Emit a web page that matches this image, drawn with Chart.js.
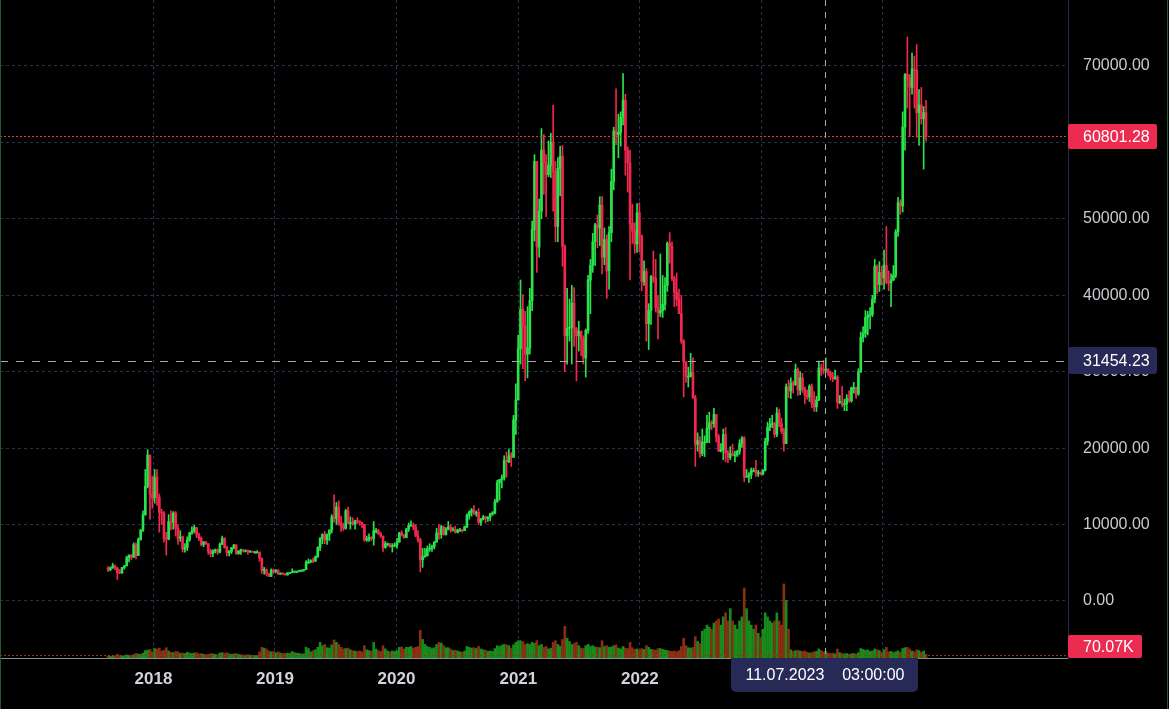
<!DOCTYPE html>
<html>
<head>
<meta charset="utf-8">
<title>BTCUSDT</title>
<script src="https://cdn.jsdelivr.net/npm/chart.js@4.4.1/dist/chart.umd.min.js"></script>
<style>
  html, body { margin: 0; padding: 0; background: #000; overflow: hidden; }
  canvas { display: block; }
</style>
</head>
<body>
<canvas id="mychart" width="1169" height="709"></canvas>
<script>
// Weekly candles, prices in thousands USDT.
// First week starts 2017-08-14, one value per week.
const firstWeek = "2017-08-14";
const firstOpen = 4.26;

const closes = [
  4.09,4.35,4.58,4.33,3.68,3.66,4.38,4.60,5.68,5.99,5.72,7.35,5.95,8.05,9.25,11.3,15.0,19.1,13.9,13.5,
  16.2,13.6,11.6,11.5,8.2,8.1,10.4,10.3,11.5,9.5,8.2,8.4,6.8,7.0,8.0,8.9,9.2,9.6,8.7,8.2,7.4,7.7,7.5,6.5,6.2,6.6,6.7,6.4,7.4,8.2,7.0,6.3,6.5,7.0,7.3,6.2,6.5,6.7,6.6,6.6,6.5,6.5,6.4,6.4,6.4,5.6,4.0,4.1,3.6,3.2,4.0,3.9,4.0,
  3.5,3.6,3.5,3.4,3.7,3.7,3.8,3.9,3.9,4.0,4.0,4.1,5.1,5.1,5.3,5.2,5.8,7.0,8.2,8.7,8.0,8.7,9.3,11.0,10.8,12.3,10.2,9.8,9.5,11.8,10.3,10.3,10.1,10.5,10.4,10.3,10.0,8.0,8.1,8.3,8.2,9.2,9.2,8.8,8.5,7.0,7.5,7.5,7.1,7.2,7.3,7.7,
  8.9,8.7,8.3,9.4,9.9,9.9,9.7,8.5,8.0,5.4,5.8,5.9,6.8,6.9,7.1,7.7,8.9,8.7,9.7,8.7,9.4,9.7,9.3,9.3,9.0,9.3,9.3,9.2,9.7,11.2,11.6,11.9,11.6,11.6,10.3,10.7,11.0,10.8,11.0,11.4,11.5,13.0,15.5,15.9,16.1,18.4,18.2,19.0,18.8,23.7,26.3,33.0,
  38.2,36.0,32.3,33.1,39.3,48.6,57.5,46.3,51.0,59.0,57.4,55.8,57.0,60.0,56.2,49.0,56.6,58.2,46.4,34.7,35.7,35.8,39.0,35.6,34.7,35.3,34.3,31.8,35.4,42.0,43.9,47.0,49.2,48.8,51.8,45.0,47.3,43.2,48.2,54.9,61.5,61.0,61.3,63.3,65.5,59.0,57.3,49.4,48.4,46.7,50.8,47.7,
  41.8,43.1,36.3,38.0,42.4,42.2,38.4,37.7,38.0,38.8,41.3,46.8,46.4,42.2,40.4,39.5,37.6,34.0,31.3,29.4,29.4,29.9,26.6,20.5,21.0,19.3,20.8,20.8,22.6,23.3,23.2,24.4,21.5,19.6,19.8,21.8,19.4,18.8,19.3,19.1,19.1,19.6,20.6,21.3,16.3,16.3,16.5,17.1,17.1,16.8,16.8,16.6,
  17.1,20.9,22.7,23.1,23.2,21.8,24.6,23.2,22.2,20.6,28.0,27.5,28.5,28.3,30.3,27.6,29.2,27.7,26.9,26.7,28.1,25.8,25.4,26.3,30.5,30.3,30.2,30.3,29.9,29.3,29.1,29.3,26.0,26.1,25.8,25.8,26.5,26.2,27.9,27.9,27.1,30.0,34.5,35.0,37.1,37.4,37.5,39.5,43.8,41.4,43.0,42.3,
  43.9,41.7,41.6,42.0,42.6,48.3,52.1,51.7,62.0,68.9,68.4,67.2,69.6,69.4,63.9,64.9,63.1,63.9,60.8
];

const highs = [
  4.49,4.45,4.94,4.74,4.41,4.12,4.40,4.64,5.86,6.05,6.08,7.60,7.60,8.26,9.36,11.8,17.2,19.8,19.1,16.3,
  17.2,17.2,14.0,12.0,11.7,9.0,11.3,11.8,11.7,11.7,10.0,9.2,8.5,7.5,8.4,9.0,9.7,9.9,9.6,8.9,8.4,7.8,7.8,7.5,6.8,6.7,6.8,6.8,7.6,8.5,8.3,7.2,6.6,7.0,7.4,7.4,6.6,6.8,6.7,6.7,6.7,6.6,6.5,6.5,6.6,6.4,5.6,4.4,4.2,3.6,4.2,4.2,4.1,
  4.1,3.7,3.7,3.6,3.7,3.7,4.2,3.9,3.9,4.0,4.1,4.1,5.3,5.5,5.4,5.6,5.9,7.1,8.3,8.8,9.1,8.8,9.3,11.3,13.9,12.9,13.1,11.1,10.2,12.0,12.3,11.0,10.9,10.6,10.9,10.5,10.3,10.0,8.5,8.8,8.4,10.4,9.5,9.4,9.0,8.5,7.8,7.6,7.5,7.5,7.6,8.2,
  9.0,9.2,8.7,9.5,10.2,10.5,10.2,10.0,9.2,8.2,6.9,6.9,7.2,7.5,7.3,7.8,9.5,10.0,9.9,9.8,9.6,10.4,10.0,9.6,9.8,9.4,9.5,9.3,9.8,11.4,11.8,12.1,12.5,11.8,12.1,10.8,11.2,11.1,11.0,11.5,11.7,13.3,15.8,15.9,16.5,19.0,19.5,19.9,19.4,24.3,28.4,34.8,
  42.0,40.1,37.9,38.5,40.9,49.7,58.4,57.5,52.6,61.8,61.0,58.4,60.2,61.2,64.9,57.5,58.0,59.5,59.6,46.6,40.9,39.5,41.3,41.0,35.8,36.6,35.3,34.7,35.6,42.6,44.7,48.1,49.4,50.5,52.9,52.9,48.8,47.9,49.0,56.5,62.0,67.0,63.7,64.0,69.0,66.3,59.4,59.0,51.9,49.5,52.0,52.1,
  47.9,44.5,43.5,38.9,42.6,45.8,44.7,40.0,45.4,42.6,42.3,47.0,48.2,47.0,42.5,42.9,40.8,40.0,34.2,31.3,30.6,32.4,31.8,26.9,22.0,21.5,22.5,21.6,24.3,24.7,23.6,25.2,24.4,21.8,20.6,22.5,22.7,19.7,20.2,20.5,19.6,19.7,21.1,21.5,21.5,17.2,16.8,17.4,17.4,18.4,17.1,16.9,
  17.2,21.3,23.4,23.9,24.3,23.4,25.3,25.1,23.9,22.6,28.4,28.9,29.2,28.8,31.0,30.5,30.0,29.8,28.0,27.6,28.3,28.4,27.4,26.8,31.4,31.0,31.5,31.8,30.4,30.1,29.9,30.2,29.5,26.9,28.1,26.4,27.0,27.5,28.0,28.6,28.0,30.4,35.2,35.9,38.0,37.9,38.4,40.0,44.7,44.0,44.4,43.8,
  45.9,49.0,43.2,42.8,43.9,48.6,52.8,52.5,64.0,69.0,73.8,68.9,71.7,71.3,72.8,66.9,67.2,64.7,65.5
];

const lows = [
  3.85,3.95,4.25,4.05,2.82,3.56,3.65,4.17,4.58,5.11,5.38,6.08,5.50,6.41,7.95,9.1,11.2,14.8,10.7,12.1,
  12.8,12.5,9.0,10.0,7.7,6.0,8.0,9.3,9.4,8.5,7.4,7.8,6.4,6.4,6.6,7.8,8.7,8.9,8.3,7.9,7.2,7.1,7.4,6.1,5.8,5.8,6.3,6.1,6.3,7.4,6.9,5.9,5.9,6.2,6.8,6.1,6.1,6.1,6.4,6.4,6.1,6.4,6.4,6.3,6.3,5.2,3.6,3.5,3.3,3.2,3.2,3.6,3.7,
  3.5,3.5,3.5,3.4,3.4,3.6,3.7,3.7,3.7,3.8,3.9,3.9,4.1,4.9,5.0,5.0,5.2,5.7,6.6,7.5,7.5,7.4,7.9,8.9,10.3,10.0,9.9,9.1,9.2,9.4,10.1,9.4,9.9,9.4,10.1,9.9,9.6,7.8,7.8,7.8,7.9,7.3,8.9,8.7,8.3,6.5,6.9,7.2,7.0,6.4,7.1,6.9,
  7.7,8.5,8.2,8.3,9.1,9.9,9.3,8.4,7.7,3.8,4.4,5.7,5.9,6.5,6.5,6.8,7.7,8.1,8.2,8.6,8.6,9.3,9.0,9.2,8.9,8.9,9.1,9.0,9.2,9.6,10.7,11.1,11.3,11.1,10.0,9.9,10.6,10.2,10.4,10.5,11.2,11.4,12.9,13.2,14.8,15.8,16.2,18.1,17.6,19.0,21.8,26.7,
  31.0,30.4,28.8,29.2,32.3,38.0,47.1,43.0,45.0,50.0,53.2,50.3,55.5,55.4,51.0,47.0,47.0,53.0,43.8,30.0,31.0,34.0,31.0,33.3,28.8,32.7,32.1,31.0,29.3,35.0,37.6,43.0,43.9,46.2,46.5,42.8,44.0,39.6,40.8,47.0,53.8,59.7,58.0,59.5,62.3,55.7,53.5,42.0,46.8,45.5,45.6,45.7,
  40.6,41.3,34.0,32.9,36.2,41.7,37.8,34.3,37.2,37.1,38.1,40.5,44.2,41.9,38.5,38.6,37.6,33.7,26.7,28.6,28.0,29.3,26.5,17.6,19.6,18.8,19.0,18.9,20.7,20.7,22.4,22.7,20.8,19.6,19.5,18.5,18.2,18.1,18.5,19.0,18.2,18.9,19.2,20.1,15.6,16.3,15.5,16.0,16.9,16.3,16.3,16.5,
  16.5,17.0,20.4,22.3,22.7,21.4,21.5,22.8,21.9,19.6,20.6,26.6,26.5,27.2,28.2,26.9,27.0,27.3,25.8,26.4,26.1,25.3,24.8,24.8,26.2,29.5,29.7,29.9,29.5,28.9,28.7,29.0,25.2,25.8,25.4,24.9,24.9,26.0,26.0,27.2,26.5,26.9,29.9,33.9,34.5,34.8,35.6,37.2,39.0,40.2,40.5,41.3,
  40.8,41.5,40.6,38.5,41.9,42.3,47.7,50.6,50.9,59.0,64.5,60.8,66.3,64.5,60.7,59.6,62.4,56.5,60.2
];

// volume, thousands
const volumes = [
  45,40,50,55,90,60,50,55,75,70,60,80,110,95,90,120,180,190,210,150,
  230,220,240,170,190,250,170,140,130,160,150,110,120,110,140,120,110,120,130,100,110,90,80,90,110,100,90,80,120,130,110,130,100,90,100,110,90,80,70,70,80,70,60,60,60,150,260,240,220,170,150,160,130,
  150,120,110,110,120,110,160,130,120,110,100,100,260,230,150,180,200,260,380,300,330,250,240,320,440,380,330,260,220,230,240,200,180,170,160,170,150,300,200,180,170,380,220,180,160,300,220,170,150,170,160,180,
  260,270,220,260,260,280,240,260,280,670,450,330,280,260,230,250,330,380,360,300,250,250,220,180,190,170,150,140,170,280,260,240,250,230,280,220,200,190,160,170,160,230,300,280,310,330,320,300,240,320,380,420,
  420,400,330,350,330,380,360,420,300,330,260,280,220,240,380,420,330,290,450,770,480,400,330,350,380,300,240,230,300,330,280,300,270,260,250,420,280,300,260,270,300,320,240,220,280,240,230,380,250,210,220,190,
  230,210,300,260,210,200,190,230,230,210,190,180,170,160,170,150,180,280,480,300,250,240,260,520,400,350,650,700,800,750,700,850,900,950,800,1000,1100,900,1200,900,800,700,900,1000,1700,1200,900,800,700,800,600,500,
  700,1100,1000,900,850,900,1100,900,800,1800,1400,700,200,160,180,190,170,160,170,140,120,130,150,160,220,180,150,160,120,110,120,100,220,130,110,100,110,90,100,110,100,130,230,210,190,200,160,170,220,200,180,140,
  200,260,150,160,130,150,170,140,230,250,260,220,170,150,200,180,140,170,90
];

const yearLabels = ["2018", "2019", "2020", "2021", "2022", "2023", "2024"];
const priceTicks = [0, 10000, 20000, 30000, 40000, 50000, 60000, 70000];

const lastPrice = 60801.28;
const lastVolume = 70.07;
const crossDate = "2023-07-11";
const crossTime = "03:00:00";
const crossPrice = 31454.23;

// ---------------------------------------------------------------
const K = 1000;
const DAY = 86400000;
const epoch = Date.UTC(2018, 0, 1);
function dayOf(s) {
  return (Date.parse(s + "T00:00:00Z") - epoch) / DAY;
}

const UP = "#29e34b";
const DOWN = "#f0284f";
const VOL_UP = "#178c1c";
const VOL_DOWN = "#8a2e14";
const FONT = '"Liberation Sans", Arial, sans-serif';

const weekX = closes.map((c, i) => dayOf(firstWeek) + 7 * i + 3.5);
const opens = closes.map((c, i) => (i ? closes[i - 1] : firstOpen));
const isUp = closes.map((c, i) => c >= opens[i]);
const yearTicks = yearLabels.map((y) => dayOf(y + "-01-01"));

Chart.defaults.font.family = FONT;

// price line, crosshair and the labels on the axes
const overlay = {
  id: "overlay",
  afterDatasetsDraw(chart) {
    const { ctx, chartArea: a, scales } = chart;
    const py = Math.round(scales.y.getPixelForValue(lastPrice)) + 0.5;
    const vy = Math.round(scales.yv.getPixelForValue(lastVolume)) + 0.5;
    const cx = Math.round(scales.x.getPixelForValue(dayOf(crossDate))) + 0.5;
    const cy = Math.round(scales.y.getPixelForValue(crossPrice)) + 0.5;

    ctx.save();
    ctx.lineWidth = 1;
    ctx.setLineDash([2, 2]);
    ctx.strokeStyle = "#f23645";
    ctx.beginPath(); ctx.moveTo(a.left, py); ctx.lineTo(a.right, py); ctx.stroke();
    ctx.strokeStyle = "#8c3a1e";
    ctx.beginPath(); ctx.moveTo(a.left, vy); ctx.lineTo(a.right, vy); ctx.stroke();

    // crosshair
    ctx.strokeStyle = "#a3a8b2";
    ctx.setLineDash([6, 6]);
    ctx.beginPath(); ctx.moveTo(cx, a.top); ctx.lineTo(cx, a.bottom); ctx.stroke();
    ctx.setLineDash([8, 8]);
    ctx.beginPath(); ctx.moveTo(a.left, cy); ctx.lineTo(a.right, cy); ctx.stroke();
    ctx.restore();
  },
  afterDraw(chart) {
    const { ctx, chartArea: a, scales } = chart;
    const py = scales.y.getPixelForValue(lastPrice);
    const vy = scales.yv.getPixelForValue(lastVolume);
    const cx = scales.x.getPixelForValue(dayOf(crossDate));
    const cy = scales.y.getPixelForValue(crossPrice);

    ctx.save();
    ctx.font = "16px " + FONT;
    ctx.textBaseline = "middle";

    function tag(x, y, w, h, fill, text, r) {
      ctx.fillStyle = fill;
      ctx.beginPath();
      ctx.roundRect(x, y, w, h, r);
      ctx.fill();
      ctx.fillStyle = "#ffffff";
      ctx.textAlign = "left";
      ctx.fillText(text, a.right + 15, y + h / 2 + 1);
    }

    tag(a.right, Math.round(py - 12.5), 89, 25, "#ec2b50", lastPrice.toFixed(2), 2);
    tag(a.right, Math.round(cy - 13.5), 89, 27, "#272a56", crossPrice.toFixed(2), 3);
    const vTop = Math.min(Math.round(vy - 11.5), a.bottom - 23);
    tag(a.right, vTop, 74, 23, "#ec2b50", lastVolume.toFixed(2) + "K", 2);

    // time label under the crosshair
    const parts = crossDate.split("-");
    const dateText = parts[2] + "." + parts[1] + "." + parts[0];
    ctx.fillStyle = "#272a56";
    ctx.beginPath();
    ctx.roundRect(Math.round(cx - 93.5), a.bottom, 187, 34, [0, 0, 5, 5]);
    ctx.fill();
    ctx.fillStyle = "#ffffff";
    ctx.textAlign = "center";
    ctx.fillText(dateText + "    " + crossTime, cx, a.bottom + 18);

    // window edges
    ctx.fillStyle = "#1d5a33";
    ctx.fillRect(0, 0, 1, chart.height);
    ctx.fillRect(chart.width - 2, 0, 1, chart.height);
    ctx.restore();
  }
};

const ctx = document.getElementById("mychart").getContext("2d");
const mychart = new Chart(ctx, {
  type: "bar",
  data: {
    datasets: [
      {
        label: "body",
        data: weekX.map((x, i) => ({ x, y: [opens[i] * K, closes[i] * K] })),
        backgroundColor: isUp.map((u) => (u ? UP : DOWN)),
        barThickness: 2,
        minBarLength: 1,
        grouped: false,
        order: 0,
        yAxisID: "y"
      },
      {
        label: "wick",
        data: weekX.map((x, i) => ({
          x,
          y: [
            Math.min(lows[i], opens[i], closes[i]) * K,
            Math.max(highs[i], opens[i], closes[i]) * K
          ]
        })),
        backgroundColor: isUp.map((u) => (u ? UP : DOWN)),
        barThickness: 1,
        grouped: false,
        order: 1,
        yAxisID: "y"
      },
      {
        label: "volume",
        data: weekX.map((x, i) => ({ x, y: volumes[i] })),
        backgroundColor: isUp.map((u) => (u ? VOL_UP : VOL_DOWN)),
        barThickness: 2,
        minBarLength: 1,
        grouped: false,
        order: 2,
        yAxisID: "yv"
      }
    ]
  },
  options: {
    responsive: false,
    animation: false,
    devicePixelRatio: 1,
    layout: { padding: 0 },
    plugins: {
      legend: { display: false },
      tooltip: { enabled: false }
    },
    scales: {
      x: {
        type: "linear",
        min: dayOf("2016-09-27"),
        max: dayOf("2025-07-10"),
        offset: false,
        afterBuildTicks: (s) => { s.ticks = yearTicks.map((v) => ({ value: v })); },
        afterFit: (s) => { s.height = 51; s.paddingLeft = 0; s.paddingRight = 0; },
        ticks: {
          autoSkip: false,
          maxRotation: 0,
          padding: 11,
          color: "#d1d4dc",
          font: { size: 17, weight: "bold" },
          callback: (v, i) => yearLabels[i]
        },
        grid: { color: "#2b2f4e", drawTicks: false, offset: false },
        border: { display: true, color: "#8a8d96", dash: [3, 3] }
      },
      y: {
        type: "linear",
        position: "right",
        min: -7458,
        max: 78634,
        afterBuildTicks: (s) => { s.ticks = priceTicks.map((v) => ({ value: v })); },
        afterFit: (s) => { s.width = 101; s.paddingTop = 0; s.paddingBottom = 0; },
        ticks: {
          padding: 15,
          color: "#c9cbd1",
          font: { size: 16 },
          callback: (v) => Number(v).toFixed(2)
        },
        grid: { color: "#2b2f4e", drawTicks: false },
        border: { display: true, color: "#262a50", dash: [3, 3] }
      },
      yv: {
        type: "linear",
        display: false,
        min: 0,
        max: 16000
      }
    }
  },
  plugins: [overlay]
});
</script>
</body>
</html>
